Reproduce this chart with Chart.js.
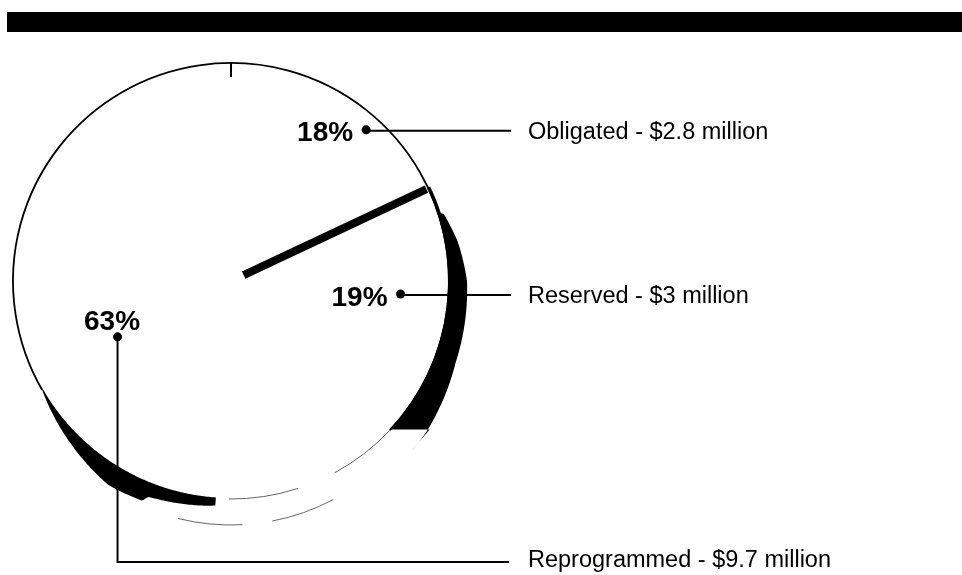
<!DOCTYPE html>
<html>
<head>
<meta charset="utf-8">
<script src="https://cdn.jsdelivr.net/npm/chart.js@4"></script>
<style>
  html, body { margin: 0; padding: 0; background: #fff; }
  #wrap { position: relative; width: 962px; height: 575px; }
</style>
</head>
<body>
<div id="wrap"><canvas id="c" width="962" height="575"></canvas></div>
<script>
// shares of the fund, clockwise from 12 o'clock
const categories = ['Obligated', 'Reserved', 'Reprogrammed'];
const shares = [18, 19, 63];
const amounts = ['$2.8 million', '$3 million', '$9.7 million'];
const pctLabels = ['18%', '19%', '63%'];

// pointer dot for each slice: fraction of radius, degrees past the slice mid-angle
const dotRadius = [0.93, 0.78, 0.58];
const dotShift = [9.4, -4.6, -2.8];

// dark rim (scanned 3D edge) outside the circle: [degrees from 12 o'clock, thickness px]
const reservedRim = [[64.6, 2.5], [72, 2.5], [72.5, 5], [80, 12], [90, 18], [110, 21], [128, 29], [133.2, 30]];
const reprogRim = [[184, 7], [186, 8], [201, 13], [202, 19], [211, 20], [225, 10], [240, 0]];

const ink = '#000';

const calloutPlugin = {
  id: 'callouts',
  afterDatasetsDraw(chart) {
    const ctx = chart.ctx;
    const arcs = chart.getDatasetMeta(0).data;
    const cx = arcs[0].x, cy = arcs[0].y, R = arcs[0].outerRadius;
    const rad = deg => (deg - 90) * Math.PI / 180;
    const pt = (deg, r) => [cx + r * Math.cos(rad(deg)), cy + r * Math.sin(rad(deg))];
    const toDeg = a => a * 180 / Math.PI + 90;
    ctx.save();

    // outer circle: solid round most of it, faint across the bottom
    const splitA = toDeg(arcs[1].endAngle);
    ctx.strokeStyle = ink;
    ctx.lineWidth = 1.8;
    ctx.beginPath();
    ctx.arc(cx, cy, R, rad(240), rad(360 + splitA));
    ctx.stroke();
    ctx.strokeStyle = '#666';
    ctx.lineWidth = 1;
    ctx.setLineDash([70, 40]);
    ctx.beginPath();
    ctx.arc(cx, cy, R, rad(splitA), rad(184));
    ctx.stroke();
    // faint lower edge of the disc
    ctx.setLineDash([65, 30]);
    ctx.beginPath();
    ctx.arc(cx, cy + 26, R, rad(152), rad(201));
    ctx.stroke();
    ctx.setLineDash([]);

    // small notch at 12 o'clock
    ctx.strokeStyle = ink;
    ctx.lineWidth = 2;
    ctx.beginPath();
    ctx.moveTo(...pt(0, R));
    ctx.lineTo(...pt(0, R - 14));
    ctx.stroke();

    // heavy edge between obligated and reserved
    const b = toDeg(arcs[0].endAngle);
    ctx.lineWidth = 8;
    ctx.beginPath();
    ctx.moveTo(...pt(b, 14));
    ctx.lineTo(...pt(b, R - 2));
    ctx.stroke();

    // dark rims
    const interp = (prof, d) => {
      for (let k = 0; k < prof.length - 1; k++) {
        const [d0, t0] = prof[k], [d1, t1] = prof[k + 1];
        if (d >= Math.min(d0, d1) && d <= Math.max(d0, d1)) {
          return d1 === d0 ? t0 : t0 + (t1 - t0) * (d - d0) / (d1 - d0);
        }
      }
      return 0;
    };
    const rim = (prof, flatEnd) => {
      const d0 = prof[0][0], d1 = prof[prof.length - 1][0];
      ctx.beginPath();
      const steps = 120;
      for (let s = 0; s <= steps; s++) {
        const d = d0 + (d1 - d0) * s / steps;
        const p = pt(d, R + interp(prof, d));
        s === 0 ? ctx.moveTo(...p) : ctx.lineTo(...p);
      }
      if (flatEnd) {
        const inner = pt(d1, R - 1);
        const ro = R + prof[prof.length - 1][1];
        const dy = inner[1] - cy;
        ctx.lineTo(cx + Math.sqrt(ro * ro - dy * dy), inner[1]);
      }
      for (let s = steps; s >= 0; s--) {
        const d = d0 + (d1 - d0) * s / steps;
        ctx.lineTo(...pt(d, R - 1));
      }
      ctx.closePath();
      ctx.fillStyle = ink;
      ctx.fill();
    };
    rim(reservedRim, true);
    rim(reprogRim, false);

    // callouts
    const textX = 527;
    arcs.forEach((arc, i) => {
      const mid = toDeg((arc.startAngle + arc.endAngle) / 2) + dotShift[i];
      const [dx, dy] = pt(mid, dotRadius[i] * R);

      ctx.fillStyle = ink;
      ctx.beginPath();
      ctx.arc(dx, dy, 4.5, 0, Math.PI * 2);
      ctx.fill();

      ctx.strokeStyle = ink;
      ctx.lineWidth = 2;
      ctx.beginPath();
      let lineY, base;
      if (i < 2) {
        lineY = dy + 1;
        ctx.moveTo(dx, lineY);
        ctx.lineTo(textX - 16, lineY);
        base = lineY + 8;
      } else {
        lineY = chart.height - 13;
        ctx.moveTo(dx, dy);
        ctx.lineTo(dx, lineY);
        ctx.lineTo(textX - 18, lineY);
        base = lineY + 5;
      }
      ctx.stroke();

      ctx.font = 'bold 28px "Liberation Sans", Arial, sans-serif';
      ctx.textBaseline = 'alphabetic';
      if (i < 2) {
        ctx.textAlign = 'right';
        ctx.fillText(pctLabels[i], dx - 13, dy + 11.5);
      } else {
        ctx.textAlign = 'center';
        ctx.fillText(pctLabels[i], dx - 5.5, dy - 7);
      }

      ctx.font = '23.5px "Liberation Sans", Arial, sans-serif';
      ctx.textAlign = 'left';
      ctx.fillText(categories[i] + ' - ' + amounts[i], textX + 1, base);
    });
    ctx.restore();
  }
};

const barPlugin = {
  id: 'topBar',
  beforeDraw(chart) {
    const ctx = chart.ctx;
    ctx.save();
    ctx.fillStyle = '#fff';
    ctx.fillRect(0, 0, chart.width, chart.height);
    ctx.fillStyle = ink;
    ctx.fillRect(7, 12, chart.width - 7, 20);
    ctx.restore();
  }
};

new Chart(document.getElementById('c'), {
  type: 'pie',
  data: {
    labels: categories,
    datasets: [{
      data: shares,
      backgroundColor: '#fff',
      borderWidth: 0
    }]
  },
  options: {
    responsive: false,
    animation: false,
    rotation: 0,
    layout: { padding: { left: 13, right: 513, top: 63, bottom: 76 } },
    plugins: {
      legend: { display: false },
      tooltip: { enabled: false }
    }
  },
  plugins: [barPlugin, calloutPlugin]
});
</script>
</body>
</html>
